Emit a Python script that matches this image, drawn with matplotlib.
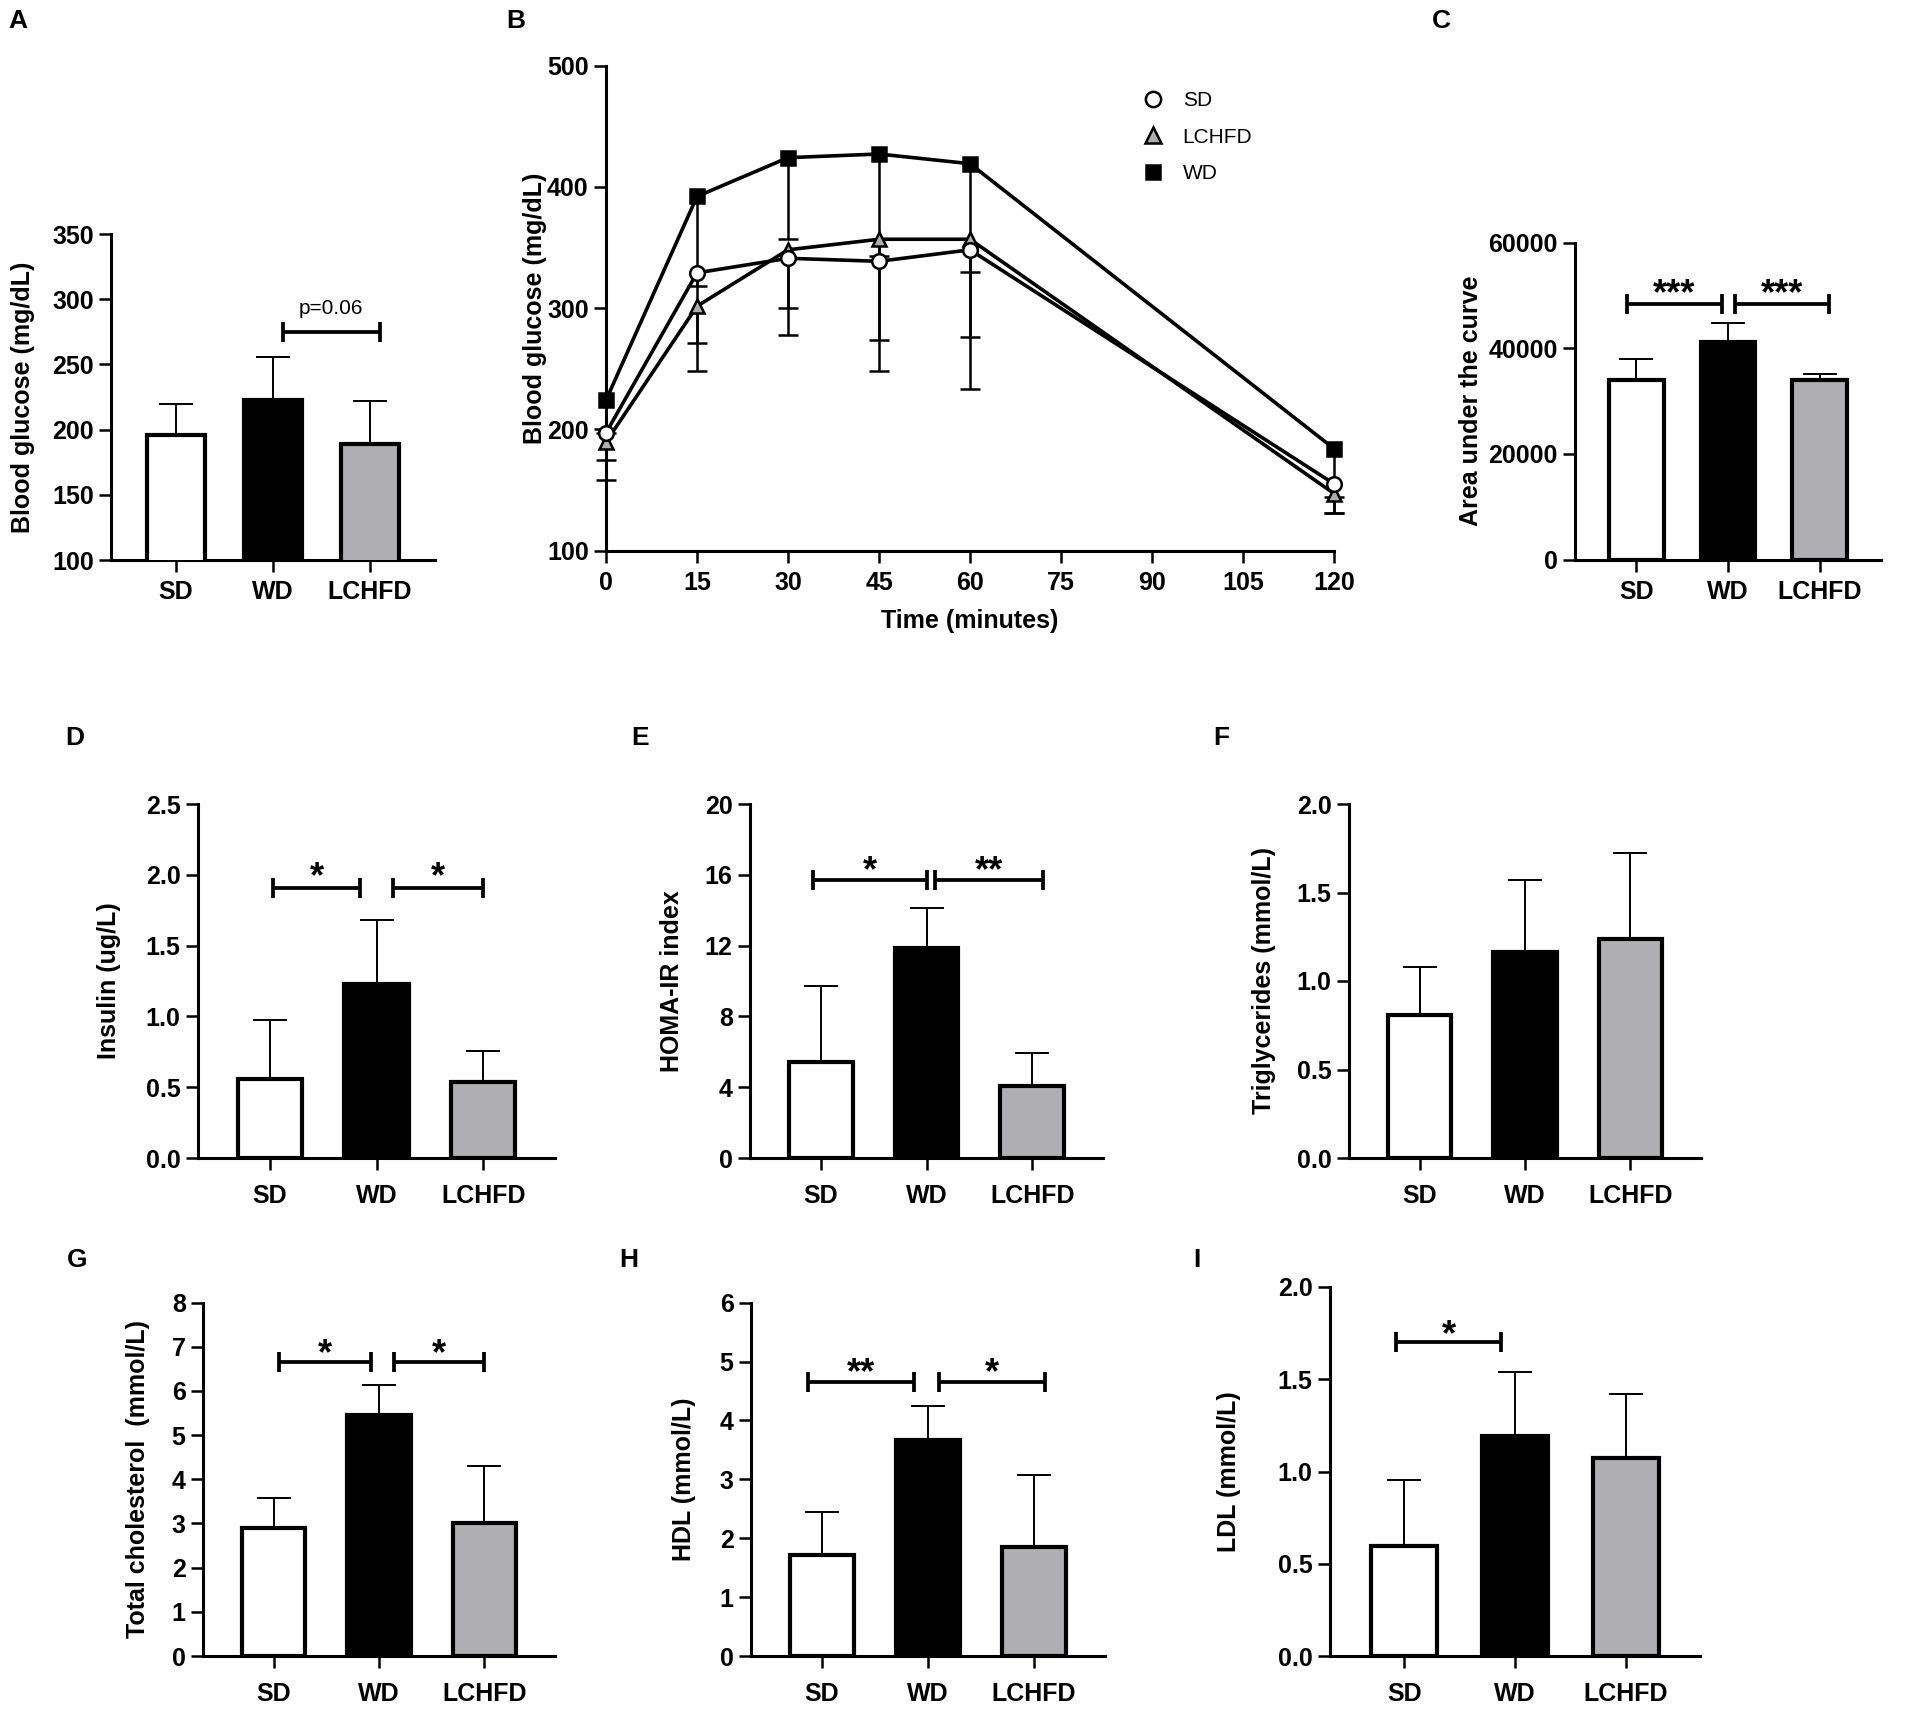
import matplotlib
matplotlib.use('Agg')
import matplotlib.pyplot as plt
from matplotlib.lines import Line2D
import numpy as np

plt.rcParams['font.family'] = ['Liberation Sans', 'DejaVu Sans']
plt.rcParams['font.weight'] = 'bold'
plt.rcParams['axes.labelweight'] = 'bold'

W, H = 1905, 1709
fig = plt.figure(figsize=(W / 100, H / 100), dpi=100)

# ---------------- data ----------------
groups = ['SD', 'WD', 'LCHFD']
bar_colors = ['white', 'black', '#afafb3']

# Panel A: fasting blood glucose
glu_mean = [196, 223, 189]
glu_err = [23.4, 32.4, 32.7]
# Panel B: glucose tolerance test
times = [0, 15, 30, 45, 60, 120]
gtt_sd_mean = [197, 329, 341, 338.5, 348, 155]
gtt_sd_err = [22.5, 58, 41, 64.5, 72, 24]
gtt_lchfd_mean = [189.5, 301.5, 348, 356.7, 356.7, 147]
gtt_lchfd_err = [31.5, 53.5, 70, 108.7, 123.7, 16]
gtt_wd_mean = [224, 392, 424, 427, 419, 184]
gtt_wd_err = [27, 74, 67, 84, 89, 40]
# Panel C: AUC
auc_mean = [33900, 41200, 34040]
auc_err = [4060, 3500, 1020]
# Panel D: insulin
ins_mean = [0.56, 1.23, 0.537]
ins_err = [0.415, 0.453, 0.221]
# Panel E: HOMA-IR
homa_mean = [5.40, 11.86, 4.09]
homa_err = [4.34, 2.24, 1.84]
# Panel F: triglycerides
tg_mean = [0.81, 1.166, 1.235]
tg_err = [0.27, 0.406, 0.486]
# Panel G: total cholesterol
tc_mean = [2.90, 5.45, 3.00]
tc_err = [0.68, 0.69, 1.29]
# Panel H: HDL
hdl_mean = [1.71, 3.67, 1.85]
hdl_err = [0.74, 0.57, 1.22]
# Panel I: LDL
ldl_mean = [0.597, 1.19, 1.071]
ldl_err = [0.358, 0.349, 0.347]


def rect(l, r, t, b):
    return [l / W, 1 - b / H, (r - l) / W, (b - t) / H]


def style_axes(ax, xpad=7):
    for s in ['top', 'right']:
        ax.spines[s].set_visible(False)
    for s in ['left', 'bottom']:
        ax.spines[s].set_linewidth(2.2)
    ax.tick_params(axis='both', width=1.8, length=8.5, labelsize=18,
                   direction='out', pad=4)
    ax.tick_params(axis='x', pad=xpad)


def set_ylabel(ax, text, l, r, cx):
    ax.set_ylabel(text, fontsize=18, va='center')
    ax.yaxis.set_label_coords((cx - l) / (r - l), 0.5)


def bracket(ax, x1, x2, y, label, ylab, size=26, normal=False):
    ax.plot([x1, x2], [y, y], color='k', lw=2.7, solid_capstyle='butt',
            zorder=5)
    ax.plot([x1, x2], [y, y], ls='none', marker='|', ms=14, mew=2.7,
            color='k', zorder=5)
    if normal:
        ax.text((x1 + x2) / 2, ylab, label, ha='center', va='center',
                fontsize=15, fontweight='normal')
    else:
        ax.annotate(label, xy=((x1 + x2) / 2, ylab), xytext=(0, -15),
                    textcoords='offset points', ha='center', va='baseline',
                    fontsize=size, fontweight='bold')


def bar_panel(box, means, errs, ylim, yticks, yticklabels, ylabel, label_cx,
              xpad=8):
    l, r, t, b = box
    ax = fig.add_axes(rect(l, r, t, b))
    x = np.arange(3)
    ax.bar(x, means, width=0.6, color=bar_colors, edgecolor='black',
           linewidth=3, zorder=3)
    eb = ax.errorbar(x, means, yerr=[np.zeros(3), errs], fmt='none',
                     ecolor='black', elinewidth=1.4, capsize=12,
                     capthick=1.4, zorder=2)
    eb[1][0].set_visible(False)
    ax.set_xlim(-0.67, 2.67)
    ax.set_ylim(*ylim)
    ax.set_xticks(x)
    ax.set_xticklabels(groups)
    ax.set_yticks(yticks)
    ax.set_yticklabels(yticklabels)
    style_axes(ax, xpad)
    set_ylabel(ax, ylabel, l, r, label_cx)
    return ax


# ---------------- Panel A ----------------
axA = bar_panel((111, 435, 234, 560), glu_mean, glu_err, (100, 350),
                [100, 150, 200, 250, 300, 350],
                ['100', '150', '200', '250', '300', '350'],
                'Blood glucose (mg/dL)', 23, xpad=6)
bracket(axA, 1.1, 2.1, 275, 'p=0.06', 293, normal=True)

# ---------------- Panel B ----------------
lB, rB, tB, bB = 606, 1334, 65.5, 550.5
axB = fig.add_axes(rect(lB, rB, tB, bB))
series = [
    (gtt_wd_mean, gtt_wd_err, 's', 'black', 'WD'),
    (gtt_lchfd_mean, gtt_lchfd_err, '^', '#afafb3', 'LCHFD'),
    (gtt_sd_mean, gtt_sd_err, 'o', 'white', 'SD'),
]
for i, (m, e, mk, fc, name) in enumerate(series):
    eb = axB.errorbar(times, m, yerr=[e, np.zeros(len(e))], fmt='none',
                      ecolor='black', elinewidth=1.8, capsize=7,
                      capthick=1.8, zorder=2 + i)
    eb[1][1].set_visible(False)
    for c in eb[1]:
        c.set_clip_on(False)
    for c in eb[2]:
        c.set_clip_on(False)
for i, (m, e, mk, fc, name) in enumerate(series):
    axB.plot(times, m, color='black', lw=2.6, marker=mk,
             ms=10.5 if mk != 's' else 9.5,
             mfc=fc, mec='black', mew=1.8, clip_on=False, zorder=6 + i)
axB.set_xlim(0, 120)
axB.set_ylim(100, 500)
axB.set_xticks([0, 15, 30, 45, 60, 75, 90, 105, 120])
axB.set_yticks([100, 200, 300, 400, 500])
style_axes(axB, 6)
axB.set_xlabel('Time (minutes)', fontsize=18, labelpad=10)
set_ylabel(axB, 'Blood glucose (mg/dL)', lB, rB, 535)
handles = [
    Line2D([], [], ls='none', marker='o', mfc='white', mec='black', ms=11, mew=1.8),
    Line2D([], [], ls='none', marker='^', mfc='#afafb3', mec='black', ms=11, mew=1.8),
    Line2D([], [], ls='none', marker='s', mfc='black', mec='black', ms=10, mew=1.8),
]
leg = axB.legend(handles, ['SD', 'LCHFD', 'WD'], loc='upper left',
                 bbox_to_anchor=(1143 / W, 1 - 91 / H),
                 bbox_transform=fig.transFigure, frameon=False,
                 borderpad=0, borderaxespad=0, handlelength=1.0,
                 handletextpad=0.9, labelspacing=0.85,
                 prop={'size': 15, 'weight': 'normal'})

# ---------------- Panel C ----------------
axC = bar_panel((1575, 1881, 242.5, 559.6), auc_mean, auc_err, (0, 60000),
                [0, 20000, 40000, 60000], ['0', '20000', '40000', '60000'],
                'Area under the curve', 1471, xpad=6)
bracket(axC, -0.1, 0.93, 48300, '***', 52200)
bracket(axC, 1.08, 2.1, 48300, '***', 52200)

# ---------------- Panel D ----------------
axD = bar_panel((198, 555, 804, 1158), ins_mean, ins_err, (0, 2.5),
                [0, 0.5, 1.0, 1.5, 2.0, 2.5],
                ['0.0', '0.5', '1.0', '1.5', '2.0', '2.5'],
                'Insulin (ug/L)', 109, xpad=10)
bracket(axD, 0.03, 0.85, 1.907, '*', 2.06)
bracket(axD, 1.15, 2.0, 1.907, '*', 2.06)

# ---------------- Panel E ----------------
axE = bar_panel((750, 1103, 804, 1158), homa_mean, homa_err, (0, 20),
                [0, 4, 8, 12, 16, 20], ['0', '4', '8', '12', '16', '20'],
                'HOMA-IR index', 672, xpad=10)
bracket(axE, -0.07, 1.0, 15.68, '*', 16.8)
bracket(axE, 1.08, 2.1, 15.68, '**', 16.8)

# ---------------- Panel F ----------------
axF = bar_panel((1349, 1701, 804, 1158), tg_mean, tg_err, (0, 2.0),
                [0, 0.5, 1.0, 1.5, 2.0], ['0.0', '0.5', '1.0', '1.5', '2.0'],
                'Triglycerides (mmol/L)', 1264, xpad=10)

# ---------------- Panel G ----------------
axG = bar_panel((203, 555, 1302.6, 1656), tc_mean, tc_err, (0, 8),
                list(range(9)), [str(v) for v in range(9)],
                'Total cholesterol  (mmol/L)', 138, xpad=10)
bracket(axG, 0.05, 0.92, 6.66, '*', 7.07)
bracket(axG, 1.14, 2.0, 6.66, '*', 7.07)

# ---------------- Panel H ----------------
axH = bar_panel((751, 1105, 1302.6, 1656), hdl_mean, hdl_err, (0, 6),
                list(range(7)), [str(v) for v in range(7)],
                'HDL (mmol/L)', 684, xpad=10)
bracket(axH, -0.13, 0.87, 4.65, '**', 4.99)
bracket(axH, 1.1, 2.1, 4.65, '*', 4.99)

# ---------------- Panel I ----------------
axI = bar_panel((1330, 1700, 1287, 1656), ldl_mean, ldl_err, (0, 2.0),
                [0, 0.5, 1.0, 1.5, 2.0], ['0.0', '0.5', '1.0', '1.5', '2.0'],
                'LDL (mmol/L)', 1229, xpad=10)
bracket(axI, -0.07, 0.87, 1.70, '*', 1.80)

# ---------------- panel letters ----------------
letters = ['A', 'B', 'C', 'D', 'E', 'F', 'G', 'H', 'I']
letter_xy = [(18, 21), (516, 21), (1441, 21), (75, 738), (640, 738),
             (1221, 738), (77, 1260), (629, 1260), (1197, 1260)]
for lt, (lx, ly) in zip(letters, letter_xy):
    fig.text(lx / W, 1 - ly / H, lt, ha='center', va='center',
             fontsize=19, fontweight='bold')

fig.savefig('out.png', dpi=100, facecolor='white')
